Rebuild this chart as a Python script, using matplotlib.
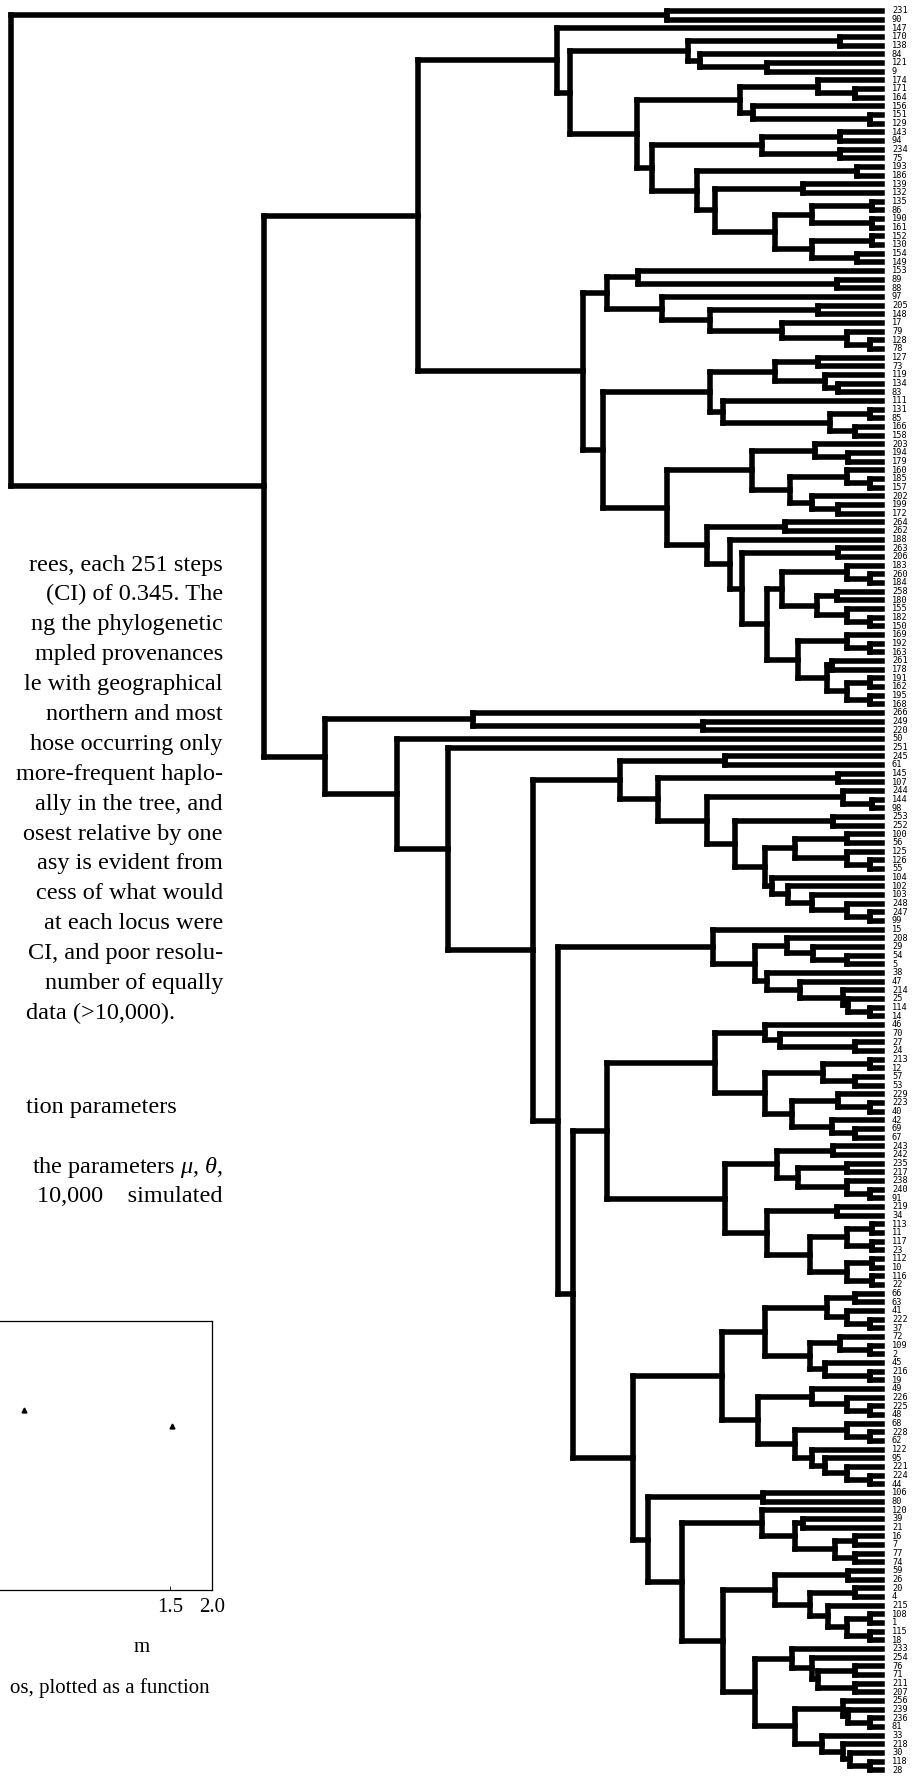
import matplotlib
matplotlib.use('Agg')
import matplotlib.pyplot as plt
from matplotlib.collections import LineCollection

plt.rcParams['mathtext.fontset'] = 'custom'
plt.rcParams['mathtext.rm'] = 'Liberation Serif'
plt.rcParams['mathtext.it'] = 'Liberation Serif:italic'

# Haplotype cladogram. Clades are written in newick form, built bottom-up;
# the number after each ')' is the depth of that node from the root.
TIP_DEPTH = 871

n775 = "(((135,86)861,(190,161)861)801,((152,130)861,(154,149)846)801)764"
n715 = f"((139,132)792,{n775})704"
n697 = f"((193,186)846,{n715})686"
n652 = f"(((143,94)829,(234,75)829)751,{n697})641"
n740 = "((174,(171,164)844)807,(156,(151,129)859)742)729"
n637 = f"({n740},{n652})626"
n688 = "((170,138)829,(84,(121,9)756)689)677"
n570 = f"({n688},{n637})559"
n557 = f"(147,{n570})546"

n710 = "((205,148)807,(17,(79,(128,78)859)836)771)699"
n662 = f"(97,{n710})651"
n607 = f"((153,(89,88)826)627,{n662})596"
n775b = "((127,73)807,(119,(134,83)827)814)764"
n723 = "(111,((131,85)859,(166,158)844)819)712"
n710b = f"({n775b},{n723})699"
n790 = "((160,(185,157)859)836,(202,(199,172)827)801)779"
n752 = f"((203,(194,179)837)804,{n790})741"
n782 = "((183,(260,184)859)836,((258,180)826,(155,(182,150)859)836)806)771"
n798 = "((169,(192,163)859)836,((261,178)821,((191,162)859,(195,168)859)836)816)787"
n767 = f"({n782},{n798})756"
n742 = f"((263,206)827,{n767})731"
n730 = f"(188,{n742})719"
n707 = f"((264,262)774,{n730})696"
n667 = f"({n752},{n707})656"
n603 = f"({n710b},{n667})592"
n583 = f"({n607},{n603})572"
n418 = f"({n557},{n583})407"

n765 = ("(((100,56)836,(125,(126,55)859)836)784,"
        "(104,(102,(103,(248,(247,99)859)836)801)777)761)754")
n735 = f"((253,252)822,{n765})724"
n707c = f"((244,(144,98)861)832,{n735})696"
n658 = f"((145,107)827,{n707c})647"
n618 = f"((245,61)714,{n658})609"

n755 = "((208,(29,(54,5)836)802)776,(38,(47,(214,(25,(114,14)859)837)832)789)756)744"
n713 = f"(15,{n755})702"
n765d = "(((213,12)859,(57,53)844)812,((229,(223,40)859)827,(42,(69,67)844)821)781)754"
n715b = f"((46,(70,(27,24)844)769)754,{n765d})704"
n777 = "((243,242)822,((235,217)836,(238,(240,91)859)836)787)766"
n767e = "((219,34)826,(((113,11)861,(117,23)861)836,((112,10)861,(116,22)861)836)799)756"
n725 = f"({n777},{n767e})714"
n607b = f"({n715b},{n725})596"
n765f = ("(((66,63)844,(41,(222,37)859)836)816,"
         "((72,(109,2)859)829,(45,(216,19)859)814)799)754")
n758 = ("((49,(226,(225,48)859)836)801,"
        "((68,(228,62)859)836,(122,(95,(221,(224,44)859)836)814)801)784)747")
n722 = f"({n765f},{n758})711"
n762 = "(120,((39,21)792,((16,7)844,(77,74)844)824)784)751"
n775c = "((59,26)837,((20,4)844,(215,((108,1)859,(115,18)859)836)817)799)764"
n755b = ("((233,(254,((76,71)844,(211,207)844)807)801)781,"
         "((256,(239,(236,81)859)837)832,(33,(218,(30,(118,28)859)839)832)811)784)744")
n723b = f"({n775c},{n755b})712"
n682 = f"({n762},{n723b})671"
n648 = f"((106,80)752,{n682})637"
n633 = f"({n722},{n648})622"
n573 = f"({n607b},{n633})562"
n558 = f"({n713},{n573})547"
n533 = f"({n618},{n558})522"
n448 = f"(251,{n533})437"
n397 = f"(50,{n448})386"
n325 = f"((266,(249,220)692)462,{n397})314"
n264 = f"({n418},{n325})253"
TREE = f"((231,90)656,{n264})0"

# text of the page around the figure
PAGE_LINES = [
    "rees, each 251 steps",
    "(CI) of 0.345. The",
    "ng the phylogenetic",
    "mpled provenances",
    "le with geographical",
    "northern and most",
    "hose occurring only",
    "more-frequent haplo-",
    "ally in the tree, and",
    "osest relative by one",
    "asy is evident from",
    "cess of what would",
    "at each locus were",
    "CI, and poor resolu-",
    "number of equally",
]
PAGE_LAST = "data (>10,000)."
HEADING = "tion parameters"
PARA2 = [r"the parameters $\mu$, $\theta$,", "10,000    simulated"]

# small inset plot on the page
m_vals = [-0.24, 1.52]
y_vals = [0.67, 0.61]
m_ticks = [1.5, 2.0]
m_ticklabels = ["1.5", "2.0"]


def parse(s):
    pos = 0

    def node():
        nonlocal pos
        if s[pos] == '(':
            pos += 1
            kids = [node()]
            while s[pos] == ',':
                pos += 1
                kids.append(node())
            pos += 1
            start = pos
            while pos < len(s) and s[pos].isdigit():
                pos += 1
            return {'kids': kids, 'depth': float(s[start:pos])}
        start = pos
        while s[pos] not in ',()':
            pos += 1
        return {'name': s[start:pos], 'depth': TIP_DEPTH}

    return node()


def layout(n, leaves):
    if 'kids' not in n:
        n['y'] = len(leaves)
        leaves.append(n)
        return
    for k in n['kids']:
        layout(k, leaves)
    n['y'] = (n['kids'][0]['y'] + n['kids'][-1]['y']) / 2.0


def segments(n, out):
    if 'kids' not in n:
        return
    x = n['depth']
    out.append([(x, n['kids'][0]['y']), (x, n['kids'][-1]['y'])])
    for k in n['kids']:
        out.append([(x, k['y']), (k['depth'], k['y'])])
        segments(k, out)


root = parse(TREE)
leaves = []
layout(root, leaves)
segs = []
segments(root, segs)

W, H = 920, 1779
fig = plt.figure(figsize=(W / 100, H / 100), dpi=100)
fig.patch.set_facecolor('white')

# page text in pixel coordinates
tax = fig.add_axes([0, 0, 1, 1])
tax.set_xlim(0, W)
tax.set_ylim(H, 0)
tax.axis('off')
serif = ['Liberation Serif', 'DejaVu Serif']
fs = 17.5
for i, line in enumerate(PAGE_LINES):
    tax.text(223, 565 + 29.9 * i, line, ha='right', va='center',
             family=serif, fontsize=fs)
tax.text(175, 565 + 29.9 * len(PAGE_LINES), PAGE_LAST, ha='right', va='center',
         family=serif, fontsize=fs)
tax.text(177, 1107, HEADING, ha='right', va='center', family=serif, fontsize=fs)
for i, line in enumerate(PARA2):
    tax.text(223, 1168 + 29 * i, line, ha='right', va='center',
             family=serif, fontsize=fs)
tax.text(142, 1648, "m", ha='center', va='center', family=serif, fontsize=15)
tax.text(210, 1688, "os, plotted as a function", ha='right', va='center',
         family=serif, fontsize=15)

# the tree
ax = fig.add_axes([0, 0, 1, 1])
ax.patch.set_alpha(0)
ax.set_xlim(-11, W - 11)
ax.set_ylim(204.0, -1.269)
ax.axis('off')
ax.add_collection(LineCollection(segs, colors='black', linewidths=4.0,
                                 capstyle='projecting', joinstyle='miter'))
for leaf in leaves:
    ax.text(TIP_DEPTH + 10, leaf['y'], leaf['name'], ha='left', va='center',
            family='DejaVu Sans Mono', fontsize=6.2)

# inset plot, partly cut off by the left page edge
left_px, right_px, top_px, bot_px = -120, 212, 1321, 1590
cax = fig.add_axes([left_px / W, 1 - bot_px / H,
                    (right_px - left_px) / W, (bot_px - top_px) / H])
cax.patch.set_alpha(0)
cax.set_xlim(2.0 - (right_px - left_px) / 84.0, 2.0)
cax.set_ylim(0, 1)
cax.plot(m_vals, y_vals, linestyle='none', marker='^', color='black', markersize=3.5)
cax.set_xticks(m_ticks)
cax.set_xticklabels(m_ticklabels, family=serif, fontsize=15)
cax.set_yticks([])
cax.tick_params(axis='x', direction='in', length=3, width=0.6, pad=6)
for sp in cax.spines.values():
    sp.set_linewidth(0.9)

fig.savefig('out.png', dpi=100, facecolor='white')
